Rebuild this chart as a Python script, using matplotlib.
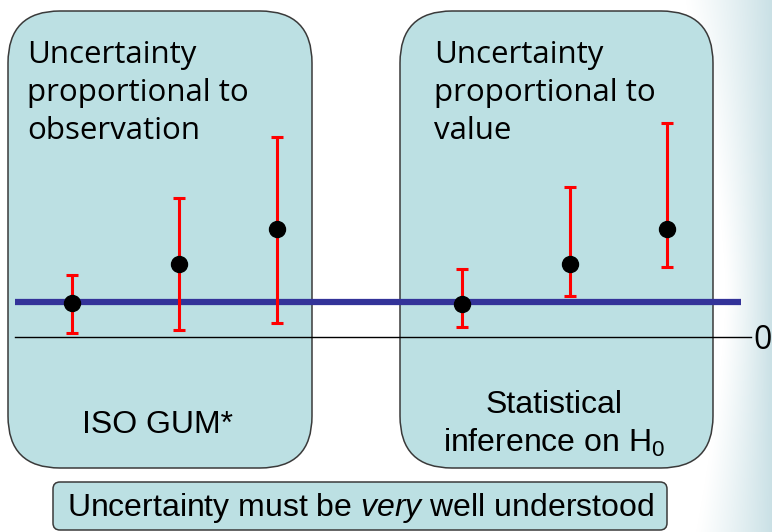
import matplotlib
matplotlib.use("Agg")
import matplotlib.pyplot as plt
from matplotlib.patches import FancyBboxPatch
import numpy as np

# values (zero line = 0, true value line = 1)
obs_x = [72, 179, 277, 462, 570, 667]
obs_y = [0.97, 2.09, 3.09, 0.94, 2.09, 3.09]
err_low = [0.86, 1.89, 2.69, 0.66, 0.91, 1.09]
err_high = [0.80, 1.89, 2.63, 1.00, 2.20, 3.03]
true_value = 1.0

left_title = ["Uncertainty", "proportional to", "observation"]
right_title = ["Uncertainty", "proportional to", "value"]

box_fill = "#bce0e3"
box_edge = "#3a3a3a"
humanist = ["Open Sans", "DejaVu Sans"]
arial = ["Liberation Sans", "DejaVu Sans"]

plt.rcParams["mathtext.fontset"] = "custom"
plt.rcParams["mathtext.rm"] = "Liberation Sans"
plt.rcParams["mathtext.it"] = "Liberation Sans:italic"

W, H = 772, 532
fig = plt.figure(figsize=(W / 100, H / 100), dpi=100)

# background / decoration axes in pixel coordinates
bg = fig.add_axes([0, 0, 1, 1])
bg.axis("off")

# soft teal fade on the right edge of the slide (starts earlier at top and bottom)
gx, gy = np.meshgrid(np.arange(W), np.arange(H))
start = 725 - 40 * np.abs((gy - H * 0.55) / (H * 0.55)) ** 1.5
t = np.clip((gx - start) / (W - start), 0, 1) ** 1.2
teal = np.array([0.79, 0.88, 0.90])
grad = (1 - t)[..., None] + teal[None, None, :] * t[..., None]
bg.imshow(grad, extent=(0, W, H, 0), aspect="auto", zorder=0)
bg.set_xlim(0, W)
bg.set_ylim(H, 0)

def rbox(x0, y0, x1, y1, r):
    p = FancyBboxPatch((x0, y0), x1 - x0, y1 - y0,
                       boxstyle="round,pad=0,rounding_size=%d" % r,
                       fc=box_fill, ec=box_edge, lw=1.1, zorder=1)
    bg.add_patch(p)

rbox(8, 11, 312, 468, 52)
rbox(400, 11, 713, 468, 52)
rbox(53, 482, 667, 530, 7)

for i, line in enumerate(left_title):
    bg.text(27, 63 + 38 * i, line, family=humanist, fontsize=22.5,
            va="baseline", ha="left", zorder=3)
for i, line in enumerate(right_title):
    bg.text(434, 63 + 38 * i, line, family=humanist, fontsize=22.5,
            va="baseline", ha="left", zorder=3)

bg.text(158, 425, "ISO GUM*", family=arial, fontsize=23, ha="center", va="center", zorder=3)
bg.text(554, 405, "Statistical", family=arial, fontsize=23, ha="center", va="center", zorder=3)
bg.text(554, 443, "inference on $\\mathregular{H_0}$", family=arial,
        fontsize=23, ha="center", va="center", zorder=3)
bg.text(360, 508, "Uncertainty must be $\\mathit{very}$ well understood", family=arial,
        fontsize=23, ha="center", va="center", zorder=3)

# data axes: 35 px per unit, zero line at pixel row 337
ax = fig.add_axes([0, 0, 1, 1], zorder=2)
ax.patch.set_alpha(0)
ax.set_xlim(0, W)
ax.set_ylim(-(H - 337) / 35, 337 / 35)
ax.axis("off")

ax.plot([15, 751], [0, 0], color="black", lw=1.0)
ax.text(772, -0.09, "0", family=humanist, fontsize=23, va="center", ha="right")
ax.plot([15, 741], [true_value, true_value], color="#333399", lw=4.5, solid_capstyle="butt")
ax.errorbar(obs_x, obs_y, yerr=[err_low, err_high], fmt="o", color="black",
            ms=11.5, ecolor="#ff0000", elinewidth=2.2, capsize=4.5, capthick=2.2, zorder=4)

fig.savefig("out.png", dpi=100)
